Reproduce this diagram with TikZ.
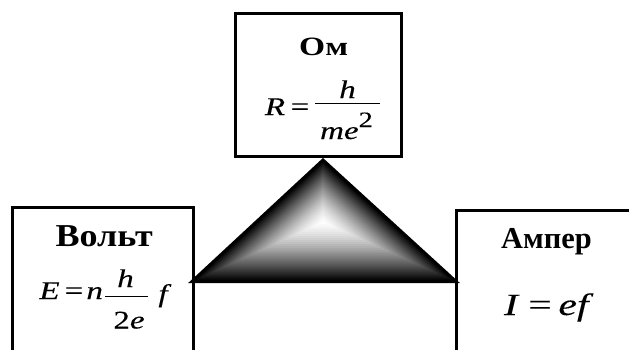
\documentclass[tikz,border=0pt]{standalone}
\usepackage{fontspec}
\setmainfont{Liberation Serif}
\newfontfamily\heavyserif[FakeBold=0.2]{Liberation Serif}
\usetikzlibrary{calc}
\begin{document}
\begin{tikzpicture}[x=1bp,y=-1bp,
  box/.style={draw, line width=3bp, rectangle, inner sep=0pt},
  ttl/.style={inner sep=0pt, anchor=base},
  fi/.style={inner sep=0pt, anchor=base, xscale=1.3, font=\heavyserif\fontsize{25.5}{30}\selectfont\itshape},
  fu/.style={inner sep=0pt, anchor=base, xscale=1.3, font=\heavyserif\fontsize{25.5}{30}\selectfont},
  bfi/.style={inner sep=0pt, anchor=base, xscale=1.35, font=\heavyserif\fontsize{31}{36}\selectfont\itshape},
  bfu/.style={inner sep=0pt, anchor=base, xscale=1.35, font=\heavyserif\fontsize{31}{36}\selectfont},
  fbar/.style={line width=1.6bp}]
\useasboundingbox (0,0) rectangle (629,349);
\clip (0,0) rectangle (629,349);
\fill[white] (0,0) rectangle (629,349);
% boxes
\node[box, minimum width=166bp, minimum height=143bp] (om) at (318,84.5) {};
\node[box, minimum width=180.5bp, minimum height=192.5bp] (volt) at (102.75,303.75) {};
\node[box, minimum width=244bp, minimum height=189.5bp] (amp) at (578,305.25) {};
% triangle
\coordinate (A) at (323,160);
\coordinate (B) at (192,281.5);
\coordinate (C) at (456,281.5);
\coordinate (I) at (323,222);
\foreach \i in {0,...,30}{
  \pgfmathsetmacro\s{1-\i/30}
  \pgfmathsetmacro\g{100*(\s^1.4)}
  \fill[black!\g!white] ($(I)!\s!(A)$) -- ($(I)!\s!(B)$) -- ($(I)!\s!(C)$) -- cycle;
}
\draw[line width=3bp, line join=miter] (A) -- (B) -- (C) -- cycle;
% titles
\node[ttl, font=\fontsize{26.5}{30}\selectfont\bfseries, xscale=1.27] (omt) at (323.7,55) {Ом};
\node[ttl, font=\fontsize{32}{36}\selectfont\bfseries, xscale=1.13] (voltt) at (104.2,246) {Вольт};
\node[ttl, font=\fontsize{30.5}{34}\selectfont\bfseries] (ampt) at (546.5,248.3) {Ампер};
% R = h / me^2
\node[fi] (oR) at (275,115) {R};
\node[fu] (oEq) at (300,115) {=};
\node[fi] (oH) at (347.5,98) {h};
\node[fi] (oD) at (346.5,139) {me\raisebox{12bp}{\upshape\fontsize{22}{24}\selectfont 2}};
\draw[fbar] (315,103.5) -- (380,103.5);
% E = n h/2e f
\node[fi] (vE) at (49.5,299) {E};
\node[fu] (vEq) at (74,299) {=};
\node[fi] (vN) at (94.7,299) {n};
\node[fi] (vH) at (125.5,287) {h};
\node[fi] (vD) at (129,328.5) {{\upshape 2}e};
\node[fi] (vF) at (163,302) {f};
\draw[fbar] (105,296.3) -- (148,296.3);
% I = ef
\node[bfi] (aI) at (511,315) {I};
\node[bfu] (aEq) at (540,315) {=};
\node[bfi] (aEF) at (573.5,315) {ef};
\end{tikzpicture}
\end{document}
